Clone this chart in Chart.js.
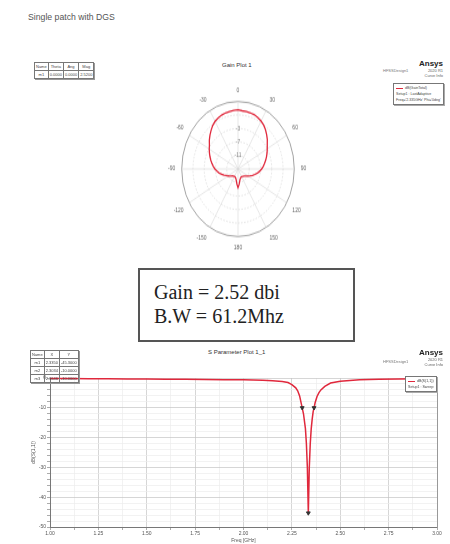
<!DOCTYPE html>
<html>
<head>
<meta charset="utf-8">
<script src="https://cdn.jsdelivr.net/npm/chart.js@4.4.1/dist/chart.umd.min.js"></script>
<style>
  body { margin: 0; width: 450px; height: 544px; background: #fff; position: relative; overflow: hidden;
         font-family: "Liberation Sans", Arial, sans-serif; color: #333; }
  .abs { position: absolute; }
  .page-title { left: 28px; top: 12px; font-size: 8.7px; color: #555; }
  .plot-title { font-size: 6px; color: #333; white-space: nowrap; }
  table.mk { position: absolute; border-collapse: collapse; font-size: 4px; color: #444;
             box-shadow: 1px 1px 0 #999; }
  table.mk td { border: 0.7px solid #777; padding: 0 1px; text-align: center; line-height: 7px; height: 7px; white-space: nowrap; }
  .logo { text-align: right; line-height: 5px; font-size: 4px; color: #666; }
  .logo b { font-size: 8px; line-height: 8px; color: #222; display: block; }
  .design { font-size: 4px; color: #777; }
  .legend { border: 0.8px solid #777; font-size: 3.6px; color: #444; line-height: 6px; padding: 1px 2px; background: #fff; box-shadow: 1px 1px 0 #aaa; white-space: nowrap; }
  .legend i { display: inline-block; width: 7px; height: 1px; vertical-align: middle; margin-right: 2px; }
  .note { left: 138px; top: 268px; width: 213px; height: 70px; border: 2px solid #555;
          font-family: "Liberation Serif", "Times New Roman", serif; font-size: 20px; line-height: 24px; color: #222; }
  .note div { padding-left: 14px; }
</style>
</head>
<body>
<div class="abs page-title">Single patch with DGS</div>

<!-- gain plot -->
<div class="abs plot-title" style="left:222px; top:62px;">Gain Plot 1</div>
<table class="mk" id="gainTable" style="left:34px; top:62px;"></table>
<div class="abs design" style="left:383px; top:68px;">HFSSDesign1</div>
<div class="abs logo" style="left:400px; top:60px; width:43px;"><b>Ansys</b>2020 R1<br>Curve Info</div>
<div class="abs legend" style="left:393px; top:83px;">
  <div><i style="background:#e0283c"></i>dB(GainTotal)</div>
  <div>Setup1 : LastAdaptive</div>
  <div>Freq='2.335GHz' Phi='0deg'</div>
</div>
<canvas id="gainChart" width="140" height="140" class="abs"
        style="left:168px; top:98.5px; transform:scaleY(1.2); transform-origin:50% 50%;"></canvas>

<div class="abs note">
  <div style="margin-top:10px;">Gain = 2.52 dbi</div>
  <div>B.W = 61.2Mhz</div>
</div>

<!-- S parameter plot -->
<div class="abs plot-title" style="left:208px; top:349px;">S Parameter Plot 1_1</div>
<canvas id="sChart" width="450" height="204" class="abs" style="left:0; top:340px;"></canvas>
<table class="mk" id="sTable" style="left:30px; top:350px;"></table>
<div class="abs design" style="left:383px; top:359px;">HFSSDesign1</div>
<div class="abs logo" style="left:400px; top:349px; width:43px;"><b>Ansys</b>2020 R1<br>Curve Info</div>
<div class="abs legend" style="left:405px; top:376px;">
  <div><i style="background:#e0283c"></i>dB(S(1,1))</div>
  <div>Setup1 : Sweep</div>
</div>

<script>
// ---- gain pattern, dB, theta = 0..355 deg step 5 (clockwise from top)
const gainDb = [
  2.52, 2.3, 2.26, 2.2, 2.1, 1.8, 1.4, 0.9, 0.2, -0.6, -1.4, -2.3,
  -3.0, -3.6, -4.2, -4.8, -5.4, -6.0, -6.6, -7.3, -8.0, -8.8, -9.5, -10.2,
  -10.8, -11.3, -11.7, -12.0, -12.2, -12.3, -12.4, -12.4, -12.2, -12.0, -11.4, -10.4,
  -9.5, -10.5, -11.5, -12.1, -12.3, -12.5, -12.5, -12.4, -12.3, -12.1, -11.8, -11.4,
  -10.9, -10.4, -9.7, -9.0, -8.2, -7.5, -6.8, -6.2, -5.6, -5.0, -4.4, -3.8,
  -3.2, -2.6, -1.7, -0.9, -0.1, 0.7, 1.3, 1.7, 2.0, 2.2, 2.3, 2.4
];
const radialTicks = [-15, -11, -7, -3, 1, 5];
const radialTickLabels = ['', '-11', '-7', '-3', '', ''];
const angleLabelStep = 30;

// ---- S11 sweep
const freqGHz = [1.00, 1.10, 1.20, 1.30, 1.40, 1.50, 1.60, 1.70, 1.80, 1.90, 2.00, 2.05, 2.10, 2.15, 2.20,
  2.23, 2.25, 2.27, 2.28, 2.29, 2.30, 2.31, 2.32, 2.325, 2.33, 2.335, 2.34, 2.345, 2.35, 2.355, 2.36,
  2.365, 2.37, 2.38, 2.39, 2.40, 2.42, 2.45, 2.50, 2.55, 2.60, 2.70, 2.80, 2.90, 3.00];
const s11Db = [-0.15, -0.18, -0.22, -0.26, -0.3, -0.35, -0.4, -0.45, -0.5, -0.55, -0.62, -0.68, -0.75, -0.9, -1.15,
  -1.5, -2.2, -3.3, -4.3, -6.0, -9.0, -12.0, -17.0, -22.0, -30.0, -45.3, -30.0, -22.0, -17.0, -13.8, -11.3,
  -9.95, -8.3, -6.2, -4.9, -4.0, -2.8, -1.7, -1.1, -0.8, -0.6, -0.45, -0.35, -0.28, -0.22];
const markerNames = ['m1', 'm2', 'm3'];
const markerFreq = [2.3350, 2.3034, 2.3646];
const markerDb = [-45.3, -10.0, -10.0];
const xTickLabels = ['1.00', '1.25', '1.50', '1.75', '2.00', '2.25', '2.50', '2.75', '3.00'];

const red = '#e0283c';

// marker tables
function fillTable(id, rows) {
  const t = document.getElementById(id);
  rows.forEach(r => {
    const tr = document.createElement('tr');
    r.forEach(c => { const td = document.createElement('td'); td.textContent = c; tr.appendChild(td); });
    t.appendChild(tr);
  });
}
fillTable('gainTable', [['Name', 'Theta', 'Ang', 'Mag'], ['m1', '0.0000', '0.0000', gainDb[0].toFixed(4)]]);
fillTable('sTable', [['Name', 'X', 'Y']].concat(markerNames.map((n, i) =>
  [n, markerFreq[i].toFixed(4), markerDb[i].toFixed(4)])));

// polar gain plot
const angleLabels = gainDb.map((v, i) => {
  const a = i * 5;
  return String(a <= 180 ? a : a - 360);
});

new Chart(document.getElementById('gainChart').getContext('2d'), {
  type: 'radar',
  data: {
    labels: angleLabels,
    datasets: [{
      data: gainDb,
      borderColor: red,
      borderWidth: 1.3,
      pointRadius: 0,
      fill: false
    }]
  },
  options: {
    responsive: false,
    animation: false,
    plugins: { legend: { display: false }, tooltip: { enabled: false } },
    scales: {
      r: {
        min: -15,
        max: 5,
        afterBuildTicks: s => { s.ticks = radialTicks.map(v => ({ value: v })); },
        ticks: {
          font: { size: 5 },
          color: '#888',
          showLabelBackdrop: false,
          callback: (v) => radialTickLabels[radialTicks.indexOf(v)]
        },
        grid: {
          circular: true,
          color: ctx => ctx.tick && ctx.tick.value === 5 ? '#8c8c8c' : '#dcdcdc',
          lineWidth: 0.8
        },
        border: { dash: ctx => ctx.tick && ctx.tick.value === 5 ? [] : [1.5, 1.5] },
        angleLines: {
          color: ctx => (ctx.index * 5) % angleLabelStep === 0 ? '#d6d6d6' : 'rgba(0,0,0,0)',
          lineWidth: 0.6
        },
        pointLabels: {
          font: { size: 5 },
          color: '#666',
          padding: 2,
          callback: (label, index) => (index * 5) % angleLabelStep === 0 ? label : ''
        }
      }
    }
  }
});

// S11 plot
const isMajorX = v => Math.abs(v * 4 - Math.round(v * 4)) < 1e-6;
new Chart(document.getElementById('sChart').getContext('2d'), {
  type: 'line',
  data: {
    datasets: [{
      data: freqGHz.map((f, i) => ({ x: f, y: s11Db[i] })),
      borderColor: red,
      borderWidth: 1.5,
      pointRadius: 0,
      clip: 4,
      order: 2
    }, {
      data: markerFreq.map((f, i) => ({ x: f, y: markerDb[i] })),
      showLine: false,
      pointStyle: 'triangle',
      rotation: 180,
      pointRadius: 2.2,
      backgroundColor: '#333',
      borderColor: '#333',
      clip: 4,
      order: 1
    }]
  },
  options: {
    responsive: false,
    animation: false,
    layout: { padding: { left: 31, right: 13, top: 38, bottom: 0 } },
    plugins: { legend: { display: false }, tooltip: { enabled: false } },
    scales: {
      x: {
        type: 'linear',
        min: 1, max: 3,
        afterFit: s => { s.height = 17; },
        ticks: {
          stepSize: 0.125, autoSkip: false, maxRotation: 0, padding: 1,
          font: { size: 5 }, color: '#555',
          callback: v => isMajorX(v) ? xTickLabels[Math.round((v - 1) * 4)] : ''
        },
        grid: {
          color: ctx => ctx.tick && isMajorX(ctx.tick.value) ? '#c4c4c4' : '#ececec',
          lineWidth: 0.7, tickLength: 3, tickColor: '#888'
        },
        border: { color: '#777' },
        title: { display: true, text: 'Freq [GHz]', font: { size: 5 }, color: '#555', padding: 0 }
      },
      y: {
        min: -50, max: 0,
        afterFit: s => { s.width = 19; },
        ticks: {
          stepSize: 2, autoSkip: false, padding: 1,
          font: { size: 5 }, color: '#555',
          callback: v => v % 10 === 0 ? String(v) : ''
        },
        grid: {
          color: ctx => ctx.tick && ctx.tick.value % 10 === 0 ? '#c4c4c4' : '#ececec',
          lineWidth: 0.7, tickLength: 3, tickColor: '#888'
        },
        border: { color: '#777' },
        title: { display: true, text: 'dB(S(1,1))', font: { size: 5 }, color: '#555', padding: 0 }
      },
      y2: {
        position: 'right',
        min: -50, max: 0,
        afterFit: s => { s.width = 0; },
        ticks: { display: false },
        grid: { drawOnChartArea: false, drawTicks: false },
        border: { color: '#999' }
      }
    }
  }
});
</script>
</body>
</html>
